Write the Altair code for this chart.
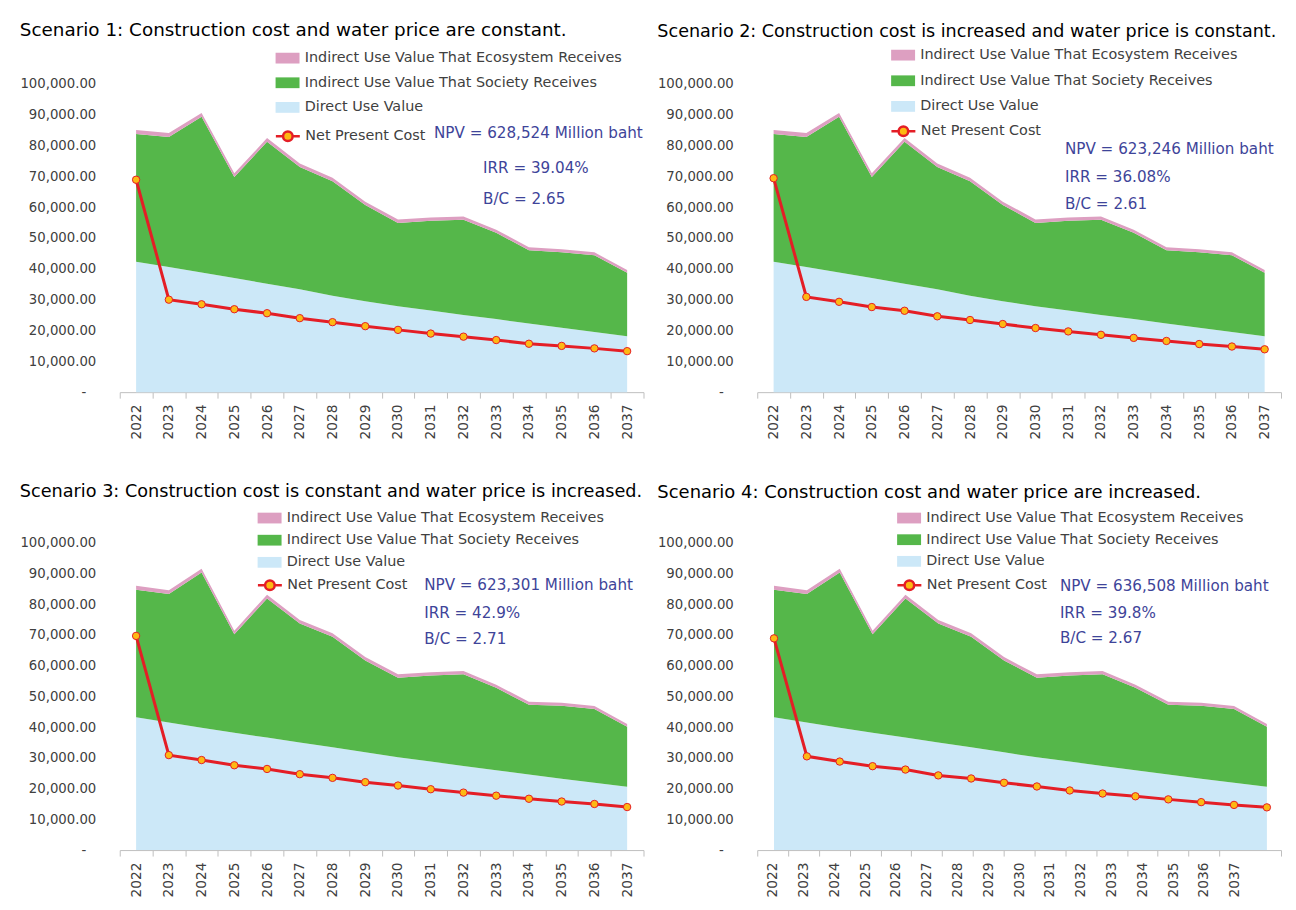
import altair as alt
import pandas as pd

FONT = "DejaVu Sans"

years = list(range(2022, 2038))

# Benefits (million baht) - scenarios 1 & 2 share benefits, scenarios 3 & 4 share benefits
direct_12 = [42300, 40600, 38800, 37000, 35200, 33400, 31300, 29500, 27900, 26500, 25000, 23700, 22300, 20900, 19500, 18100]
society_12 = [41400, 42200, 50500, 32800, 46000, 39600, 37100, 31200, 27000, 29100, 30900, 28000, 23700, 24500, 24900, 20600]
direct_34 = [43200, 41500, 39800, 38200, 36600, 35000, 33500, 31800, 30200, 28800, 27400, 26000, 24600, 23200, 21900, 20600]
society_34 = [41500, 41800, 50500, 32000, 45300, 38700, 35900, 29900, 25900, 28000, 29800, 26800, 22700, 23800, 24000, 19500]
ecosystem = [1300, 1250, 1250, 1200, 1200, 1150, 1150, 1100, 1100, 1050, 1050, 1000, 1000, 950, 950, 900]

npc_1 = [68900, 30000, 28500, 26900, 25600, 24000, 22700, 21400, 20200, 19000, 18000, 16900, 15700, 15000, 14200, 13300]
npc_2 = [69400, 30900, 29300, 27600, 26400, 24600, 23400, 22100, 20800, 19700, 18600, 17600, 16600, 15600, 14800, 13900]
npc_3 = [69700, 30900, 29300, 27600, 26400, 24700, 23500, 22100, 21000, 19800, 18700, 17700, 16700, 15800, 15000, 14000]
npc_4 = [68900, 30500, 28800, 27300, 26200, 24300, 23300, 21900, 20700, 19400, 18400, 17500, 16500, 15600, 14700, 13900]

titles = [
    "Scenario 1: Construction cost and water price are constant.",
    "Scenario 2: Construction cost is increased and water price is constant.",
    "Scenario 3: Construction cost is constant and water price is increased.",
    "Scenario 4: Construction cost and water price are increased.",
]
npv_texts = ["NPV = 628,524 Million baht", "NPV = 623,246 Million baht",
             "NPV = 623,301 Million baht", "NPV = 636,508 Million baht"]
irr_texts = ["IRR = 39.04%", "IRR = 36.08%", "IRR = 42.9%", "IRR = 39.8%"]
bc_texts = ["B/C = 2.65", "B/C = 2.61", "B/C = 2.71", "B/C = 2.67"]

# annotation anchors in data space (year, value)
ann_x = [[2031.1, 2032.6, 2032.6], [2030.9, 2030.9, 2030.9],
         [2030.8, 2030.8, 2030.8], [2030.7, 2030.7, 2030.7]]
ann_y = [[83900, 72600, 62600], [78800, 69700, 60900],
         [86400, 77300, 68800], [85800, 77100, 69000]]

eco_name = "Indirect Use Value That Ecosystem Receives"
soc_name = "Indirect Use Value That Society Receives"
dir_name = "Direct Use Value"
npc_name = "Net Present Cost"
series_names = [eco_name, soc_name, dir_name]
series_colors = ["#dd9fc1", "#55b74a", "#cce8f8"]

RED = "#e41e26"
ORANGE = "#fdb913"
BLUE_TXT = "#3e4499"
LABEL = "#404040"

RECT_PATH = "M-2,-0.9H2V0.9H-2Z"
NPC_PATH = "M-2,0H-0.8M0.8,0H2M-0.8,0A0.8,0.8,0,1,1,0.8,0A0.8,0.8,0,1,1,-0.8,0Z"

W = 525


def yaxis():
    return alt.Axis(
        title=None, grid=False, domain=False, ticks=False,
        values=list(range(0, 100001, 10000)),
        labelExpr="datum.value == 0 ? '-' : format(datum.value, ',.2f')",
        labelFont=FONT, labelFontSize=13.3, labelColor=LABEL,
        labelPadding={"condition": {"test": "datum.value == 0", "value": 34}, "value": 24},
    )


def panel(i, direct, society, npc, data_domain, axis_domain, leg, tsize, toff, h):
    lx, ly, rp, nly = leg
    rows = []
    for k, yr in enumerate(years):
        rows.append({"year": yr, "series": dir_name, "value": direct[k], "ord": 0})
        rows.append({"year": yr, "series": soc_name, "value": society[k], "ord": 1})
        rows.append({"year": yr, "series": eco_name, "value": ecosystem[k], "ord": 2})
    df = pd.DataFrame(rows)
    npc_df = pd.DataFrame({"year": years, "npc": npc, "s": [npc_name] * len(years)})
    ann_df = pd.DataFrame({"x": ann_x[i], "y": ann_y[i],
                           "t": [npv_texts[i], irr_texts[i], bc_texts[i]]})

    xs = alt.Scale(domain=data_domain, nice=False, zero=False)
    ys = alt.Scale(domain=[0, 100000], nice=False)

    tick_vals = [yr - 0.5 for yr in years] + [axis_domain[1]] + years
    xaxis = alt.Axis(
        title=None, grid=False, values=tick_vals,
        labelExpr="datum.value % 1 == 0 ? '' + datum.value : ''",
        labelAngle=-90, labelFont=FONT, labelFontSize=13.8, labelColor=LABEL,
        labelPadding=6, labelOverlap=False, labelFlush=False, labelBound=False,
        domainColor="#bfbfbf", domainWidth=1, tickColor="#bfbfbf", tickSize=6,
        tickOpacity={"condition": {"test": "datum.value % 1 != 0", "value": 1}, "value": 0},
    )

    axis_layer = alt.Chart(pd.DataFrame({"year": years})).mark_point(opacity=0).encode(
        x=alt.X("year:Q", scale=alt.Scale(domain=axis_domain, nice=False, zero=False), axis=xaxis)
    )

    area = alt.Chart(df).mark_area(strokeWidth=0).encode(
        x=alt.X("year:Q", scale=xs, axis=None),
        y=alt.Y("value:Q", stack="zero", scale=ys, axis=yaxis()),
        color=alt.Color("series:N", scale=alt.Scale(domain=series_names, range=series_colors),
                        legend=alt.Legend(title=None, orient="none", legendX=lx, legendY=ly,
                                          symbolType=RECT_PATH, symbolSize=144, symbolStrokeWidth=0,
                                          labelFont=FONT, labelFontSize=14.4, labelColor=LABEL,
                                          labelOffset=10, rowPadding=rp, padding=0, offset=0,
                                          labelLimit=400)),
        order=alt.Order("ord:Q"),
    )

    line = alt.Chart(npc_df).mark_line(color=RED, strokeWidth=3).encode(
        x=alt.X("year:Q", scale=xs, axis=None),
        y=alt.Y("npc:Q", scale=ys, axis=yaxis()),
    )
    points = alt.Chart(npc_df).mark_point(filled=True, stroke=RED, strokeWidth=1, size=55, opacity=1).encode(
        x=alt.X("year:Q", scale=xs, axis=None),
        y=alt.Y("npc:Q", scale=ys, axis=yaxis()),
        fill=alt.Fill("s:N", scale=alt.Scale(domain=[npc_name], range=[ORANGE]),
                      legend=alt.Legend(title=None, orient="none", legendX=lx, legendY=nly,
                                        symbolType=NPC_PATH, symbolSize=144, symbolStrokeWidth=2.5,
                                        symbolStrokeColor=RED,
                                        labelFont=FONT, labelFontSize=14.4, labelColor=LABEL,
                                        labelOffset=10, padding=0, offset=0, labelLimit=400)),
    )
    text = alt.Chart(ann_df).mark_text(align="left", baseline="middle", font=FONT,
                                       fontSize=15.2, color=BLUE_TXT).encode(
        x=alt.X("x:Q", scale=xs, axis=None),
        y=alt.Y("y:Q", scale=ys, axis=yaxis()),
        text="t:N",
    )

    return alt.layer(axis_layer, area, line, points, text).resolve_scale(
        x="independent"
    ).properties(
        width=W, height=h,
        title=alt.Title(titles[i], anchor="start", frame="bounds", font=FONT, fontSize=tsize,
                        fontWeight="normal", color="#000000", offset=toff),
    )


p1 = panel(0, direct_12, society_12, npc_1, [2021.5, 2037.5], [2021.5, 2037.5],
           (161, -33, 9.7, 45), 18.4, 12, 309)
p2 = panel(1, direct_12, society_12, npc_2, [2021.5, 2037.5], [2021.5, 2037.5],
           (139, -36, 10.7, 40), 17.6, 7, 309)
p3 = panel(2, direct_34, society_34, npc_3, [2021.5, 2037.5], [2021.5, 2037.5],
           (143, -32, 7.2, 35), 17.7, 10, 308)
p4 = panel(3, direct_34, society_34, npc_4, [2021.49, 2037.43], [2021.5, 2038.5],
           (145, -32, 6.7, 35), 18.0, 9, 308)

row1 = alt.hconcat(p1, p2, spacing=6).resolve_scale(color="independent", fill="independent")
row2 = alt.hconcat(p3, p4, spacing=6).resolve_scale(color="independent", fill="independent")

chart = alt.vconcat(row1, row2, spacing=43).resolve_scale(
    color="independent", fill="independent"
).properties(
    padding={"left": 11, "top": 11, "right": 0, "bottom": 0},
    background="white",
).configure_view(stroke=None)

chart.save("out.html", embed_options={"renderer": "svg", "actions": False})
